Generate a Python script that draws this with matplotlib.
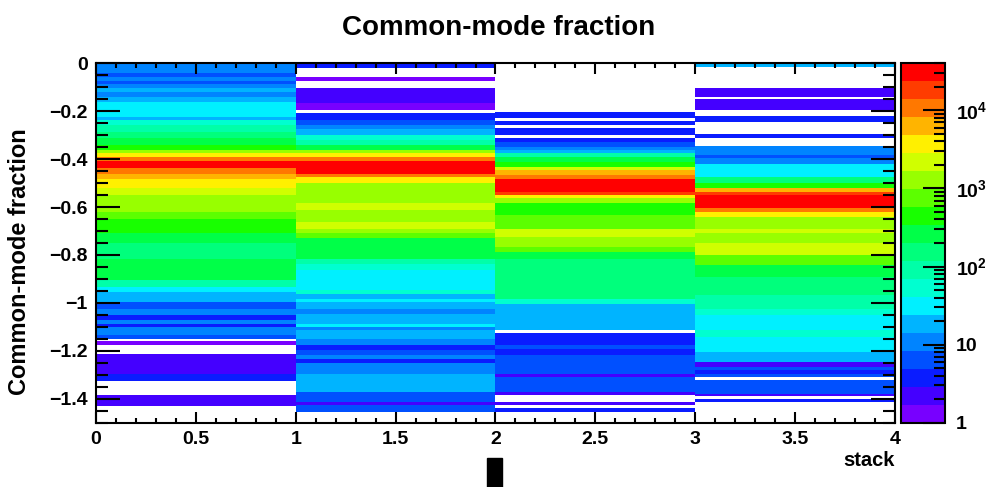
import numpy as np
import matplotlib
matplotlib.use('Agg')
import matplotlib.pyplot as plt
from matplotlib.colors import ListedColormap, LogNorm
from matplotlib.ticker import FixedLocator, MultipleLocator, LogLocator, FuncFormatter, NullFormatter
from matplotlib.patches import Rectangle

plt.rcParams['font.family'] = ['Liberation Sans', 'DejaVu Sans']
plt.rcParams['font.weight'] = 'bold'
plt.rcParams['mathtext.fontset'] = 'custom'
plt.rcParams['mathtext.rm'] = 'Liberation Sans:bold'
plt.rcParams['mathtext.bf'] = 'Liberation Sans:bold'
plt.rcParams['mathtext.it'] = 'Liberation Sans:bold'

# x bins ("stack")
stack_edges = [0, 1, 2, 3, 4]

# y bin edges (top -> bottom) and counts per stack; 0 = empty bin
col1_edges = [0, -0.042, -0.056, -0.074, -0.088, -0.105, -0.121, -0.139, -0.160, -0.223,
              -0.237, -0.258, -0.286, -0.313, -0.342, -0.362, -0.376, -0.390, -0.408, -0.439,
              -0.460, -0.481, -0.522, -0.550, -0.585, -0.620, -0.648, -0.708, -0.752, -0.815,
              -0.906, -0.933, -0.954, -0.996, -1.024, -1.052, -1.070, -1.087, -1.101, -1.135,
              -1.149, -1.159, -1.177, -1.215, -1.296, -1.326, -1.383, -1.432, -1.5]
col1_counts = [11, 7, 12, 6, 10, 19, 12, 17, 33, 20,
               52, 85, 160, 280, 480, 1400, 3900, 11500, 33000, 10500,
               6100, 3600, 2300, 1350, 1150, 720, 430, 250, 140, 270,
               95, 30, 17, 6, 11, 3, 10, 3, 12, 6,
               0, 1, 0, 2, 3, 0, 2, 0]

col2_edges = [0, -0.021, -0.056, -0.074, -0.102, -0.132, -0.167, -0.195, -0.209, -0.237,
              -0.258, -0.275, -0.300, -0.320, -0.342, -0.362, -0.376, -0.390, -0.408, -0.460,
              -0.474, -0.501, -0.585, -0.613, -0.662, -0.690, -0.710, -0.731, -0.815, -0.836,
              -0.864, -0.947, -0.961, -0.982, -0.996, -1.024, -1.045, -1.087, -1.101, -1.115,
              -1.149, -1.177, -1.198, -1.219, -1.233, -1.251, -1.296, -1.323, -1.372, -1.400,
              -1.414, -1.428, -1.456, -1.5]
col2_counts = [3, 0, 1, 0, 2, 2, 1, 0, 4, 7,
               12, 20, 55, 100, 290, 1300, 3800, 11000, 34000, 10000,
               3500, 1500, 1800, 1400, 1900, 1200, 800, 300, 100, 55,
               32, 60, 20, 28, 18, 12, 19, 27, 11, 16,
               10, 3, 6, 9, 4, 12, 17, 20, 7, 6,
               2, 6, 0]

col3_edges = [0, -0.205, -0.230, -0.240, -0.258, -0.269, -0.300, -0.311, -0.330, -0.348,
              -0.362, -0.376, -0.390, -0.411, -0.432, -0.446, -0.467, -0.483, -0.537, -0.550,
              -0.564, -0.585, -0.634, -0.662, -0.690, -0.725, -0.766, -0.787, -0.815, -0.898,
              -0.982, -1.003, -1.024, -1.066, -1.115, -1.126, -1.177, -1.191, -1.205, -1.219,
              -1.296, -1.310, -1.372, -1.386, -1.414, -1.428, -1.438, -1.456, -1.5]
col3_counts = [0, 3, 0, 4, 0, 3, 0, 4, 7, 12,
               20, 95, 270, 460, 2100, 6000, 11000, 36000, 17000, 3600,
               1300, 480, 700, 600, 2200, 1300, 750, 330, 170, 120,
               50, 20, 16, 22, 0, 3, 6, 4, 3, 7,
               2, 6, 2, 0, 2, 0, 3, 0]

col4_edges = [0, -0.014, -0.102, -0.139, -0.149, -0.195, -0.219, -0.244, -0.297, -0.313,
              -0.344, -0.383, -0.397, -0.422, -0.474, -0.501, -0.522, -0.539, -0.550, -0.606,
              -0.620, -0.641, -0.690, -0.710, -0.752, -0.801, -0.843, -0.892, -0.968, -1.024,
              -1.052, -1.115, -1.143, -1.184, -1.205, -1.226, -1.247, -1.268, -1.282, -1.296,
              -1.310, -1.321, -1.379, -1.389, -1.400, -1.414, -1.5]
col4_counts = [16, 0, 2, 0, 2, 0, 3, 0, 3, 0,
               9, 6, 12, 32, 150, 460, 6000, 17000, 37000, 10000,
               3600, 1400, 2000, 1300, 2700, 750, 280, 170, 100, 50,
               30, 55, 35, 26, 20, 15, 2, 7, 3, 6,
               0, 6, 2, 0, 3, 0]

col_edges = [col1_edges, col2_edges, col3_edges, col4_edges]
col_counts = [col1_counts, col2_counts, col3_counts, col4_counts]

y_ticks = [0, -0.2, -0.4, -0.6, -0.8, -1.0, -1.2, -1.4]
z_ticks = [1, 10, 100, 1000, 10000]
z_labels = ['1', '10', r'$\mathbf{10^{2}}$', r'$\mathbf{10^{3}}$', r'$\mathbf{10^{4}}$']

# 20-contour rainbow palette (violet -> red)
palette = ['#7800ff', '#4400ff', '#0a1cff', '#0050ff', '#0084ff',
           '#00b4ff', '#00f0ff', '#00ffd0', '#00ffa8', '#00ff7c',
           '#00ff48', '#18ff00', '#5cff00', '#98ff00', '#d0ff00',
           '#fff000', '#ffb400', '#ff7800', '#ff3c00', '#ff0000']
cmap = ListedColormap(palette)
norm = LogNorm(vmin=1, vmax=4e4)


def fmt_num(v, pos=None):
    s = f"{v:g}"
    if s in ('-0', '0'):
        return '0'
    return s.replace('-', '\u2212')


W, H = 987, 487
fig = plt.figure(figsize=(W / 100, H / 100), dpi=100)
ax = fig.add_axes([96 / W, (H - 422.7) / H, 799 / W, 359.4 / H])
cax = fig.add_axes([901 / W, (H - 422.7) / H, 44 / W, 359.4 / H])

mesh = None
for i in range(len(col_edges)):
    c = np.ma.masked_equal(np.array(col_counts[i], dtype=float), 0).reshape(-1, 1)
    mesh = ax.pcolormesh(stack_edges[i:i + 2], col_edges[i], c, cmap=cmap, norm=norm,
                         shading='flat', edgecolors='none', antialiased=False)

ax.set_xlim(0, 4)
ax.set_ylim(-1.5, 0)
ax.xaxis.set_major_locator(MultipleLocator(0.5))
ax.xaxis.set_minor_locator(MultipleLocator(0.1))
ax.yaxis.set_major_locator(FixedLocator(y_ticks))
ax.yaxis.set_minor_locator(MultipleLocator(0.05))
ax.xaxis.set_major_formatter(FuncFormatter(fmt_num))
ax.yaxis.set_major_formatter(FuncFormatter(fmt_num))
ax.tick_params(axis='x', which='major', direction='in', length=7.8, width=1.5,
               top=True, labelsize=14, pad=6)
ax.tick_params(axis='x', which='minor', direction='in', length=3.9, width=1.5, top=True)
ax.tick_params(axis='y', which='major', direction='in', length=17, width=1.5,
               right=True, labelsize=14, pad=6)
ax.tick_params(axis='y', which='minor', direction='in', length=8.5, width=1.5, right=True)
for sp in ax.spines.values():
    sp.set_linewidth(1.5)

cb = fig.colorbar(mesh, cax=cax)
cb.outline.set_linewidth(1.5)
cax.yaxis.set_ticks_position('right')
cax.yaxis.set_major_locator(FixedLocator(z_ticks))
cax.yaxis.set_major_formatter(FuncFormatter(lambda v, p: z_labels[z_ticks.index(round(v))]
                                            if round(v) in z_ticks else ''))
cax.yaxis.set_minor_locator(LogLocator(base=10, subs=np.arange(2, 10)))
cax.yaxis.set_minor_formatter(NullFormatter())
cax.tick_params(which='major', direction='in', length=15.8, width=1.5, labelsize=14, pad=8)
cax.tick_params(which='minor', direction='in', length=7.9, width=1.5)

fig.text(499 / W, 1 - 28 / H, 'Common-mode fraction', ha='center', va='center',
         fontsize=20, fontweight='bold')
fig.text(20 / W, 1 - 262 / H, 'Common-mode fraction', ha='center', va='center',
         rotation=90, fontsize=17, fontweight='bold')
fig.text(895 / W, 1 - 461 / H, 'stack', ha='right', va='center', fontsize=14.5,
         fontweight='bold')

fig.add_artist(Rectangle((487 / W, 0), 15 / W, 29 / H, transform=fig.transFigure,
                         color='black'))

fig.savefig('out.png', dpi=100)
